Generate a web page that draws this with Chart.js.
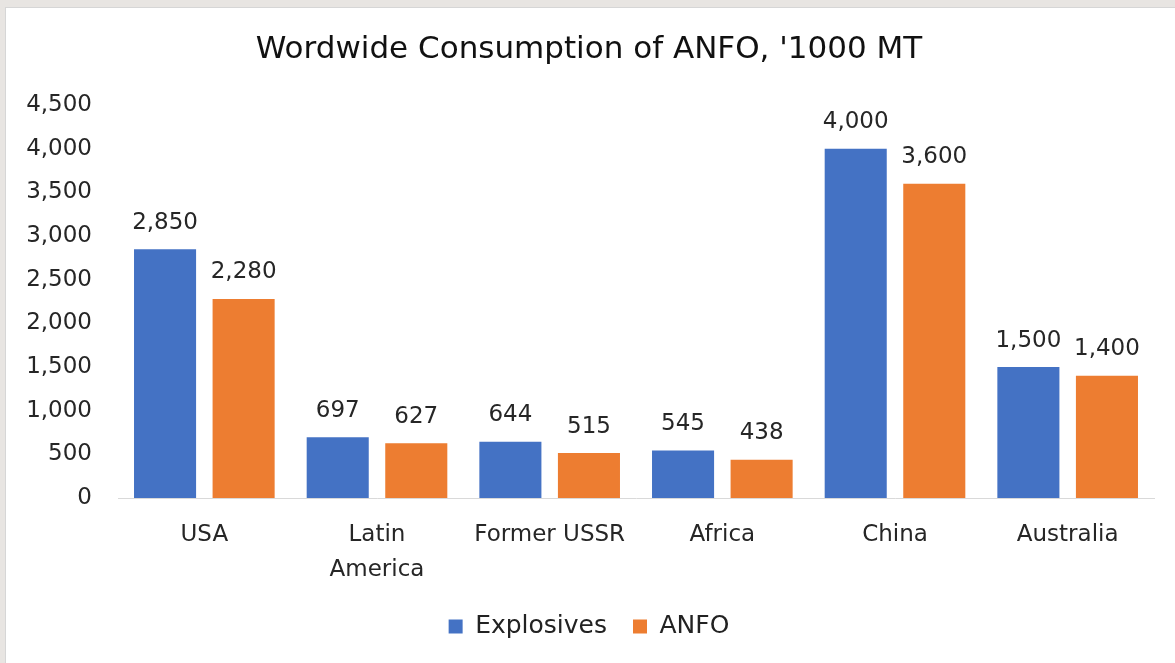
<!DOCTYPE html>
<html>
<head>
<meta charset="utf-8">
<script src="https://cdn.jsdelivr.net/npm/chart.js@4/dist/chart.umd.min.js"></script>
<style>
  html, body { margin: 0; padding: 0; }
  body { width: 1175px; height: 663px; background: #e8e5e2; position: relative; overflow: hidden; }
  #wrap { position: absolute; left: 5px; top: 7px; width: 1170px; height: 656px; background: #fff; border-left: 1px solid #d6d6d6; border-top: 1px solid #d6d6d6; box-sizing: border-box; }
</style>
</head>
<body>
<div id="wrap"><canvas id="chart" width="1169" height="655"></canvas></div>
<script>
const regions = [['USA'], ['Latin', 'America'], ['Former USSR'], ['Africa'], ['China'], ['Australia']];
const explosives = [2850, 697, 644, 545, 4000, 1500];
const anfo = [2280, 627, 515, 438, 3600, 1400];
const yTicks = [0, 500, 1000, 1500, 2000, 2500, 3000, 3500, 4000, 4500];

const FONT = "'DejaVu Sans', sans-serif";

const valueLabels = {
  id: 'valueLabels',
  afterDatasetsDraw(chart) {
    const ctx = chart.ctx;
    ctx.save();
    ctx.font = '23px ' + FONT;
    ctx.fillStyle = '#262626';
    ctx.textAlign = 'center';
    ctx.textBaseline = 'bottom';
    chart.data.datasets.forEach((ds, i) => {
      chart.getDatasetMeta(i).data.forEach((bar, j) => {
        ctx.fillText(ds.data[j].toLocaleString('en-US'), bar.x, bar.y - 15);
      });
    });
    ctx.restore();
  }
};

new Chart(document.getElementById('chart'), {
  type: 'bar',
  data: {
    labels: regions,
    datasets: [
      { label: 'Explosives', data: explosives, backgroundColor: '#4472C4' },
      { label: 'ANFO', data: anfo, backgroundColor: '#ED7D31' }
    ]
  },
  options: {
    responsive: false,
    animation: false,
    layout: { padding: { left: 18, right: 21, top: 0, bottom: 14 } },
    datasets: { bar: { categoryPercentage: 0.91, barPercentage: 0.79 } },
    plugins: {
      title: {
        display: true,
        text: "Wordwide Consumption of ANFO, '1000 MT",
        color: '#111',
        font: { family: FONT, size: 31, weight: 'normal' },
        padding: { top: 23, bottom: 37 }
      },
      legend: {
        position: 'bottom',
        labels: {
          color: '#222',
          font: { family: FONT, size: 25 },
          boxWidth: 14,
          boxHeight: 14,
          padding: 26
        }
      },
      tooltip: { enabled: false }
    },
    scales: {
      x: {
        grid: { display: false },
        border: { display: true, color: '#d9d9d9', width: 1 },
        ticks: { color: '#262626', font: { family: FONT, size: 23, lineHeight: 1.5 }, padding: 12, maxRotation: 0, autoSkip: false },
        afterFit(axis) { axis.height = 90; }
      },
      y: {
        min: 0,
        max: 4500,
        afterBuildTicks(axis) { axis.ticks = yTicks.map(v => ({ value: v })); },
        grid: { display: false, drawTicks: false },
        border: { display: false },
        ticks: {
          color: '#262626',
          font: { family: FONT, size: 23 },
          padding: 26,
          callback: v => v.toLocaleString('en-US')
        },
        afterFit(axis) { axis.width = 94; }
      }
    }
  },
  plugins: [valueLabels]
});
</script>
</body>
</html>
